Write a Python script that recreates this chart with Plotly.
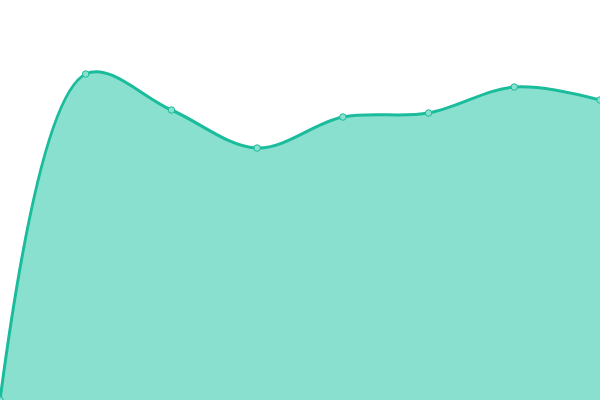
import plotly.graph_objects as go

# Data
x_vals = [0, 1, 2, 3, 4, 5, 6, 7]
y_vals = [0, 326, 290, 252, 283, 287, 313, 300]

fig = go.Figure()

fig.add_trace(go.Scatter(
    x=x_vals, y=y_vals,
    mode="lines+markers",
    line=dict(color="#1abc9c", width=3, shape="spline", smoothing=1),
    marker=dict(size=6.5, color="#89e0cf", line=dict(color="#1abc9c", width=1)),
    fill="tozeroy", fillcolor="#89e0cf",
    hoverinfo="skip",
    cliponaxis=False,
))

fig.update_layout(
    width=600, height=400,
    margin=dict(l=0, r=0, t=0, b=0),
    paper_bgcolor="white", plot_bgcolor="white",
    showlegend=False,
    xaxis=dict(range=[0, 7], visible=False),
    yaxis=dict(range=[0, 400], visible=False),
)

# drop the page's default body margin so the chart sits at 0,0
fig.write_html("out.html", config={"displayModeBar": False},
               post_script="document.body.style.margin='0';")
